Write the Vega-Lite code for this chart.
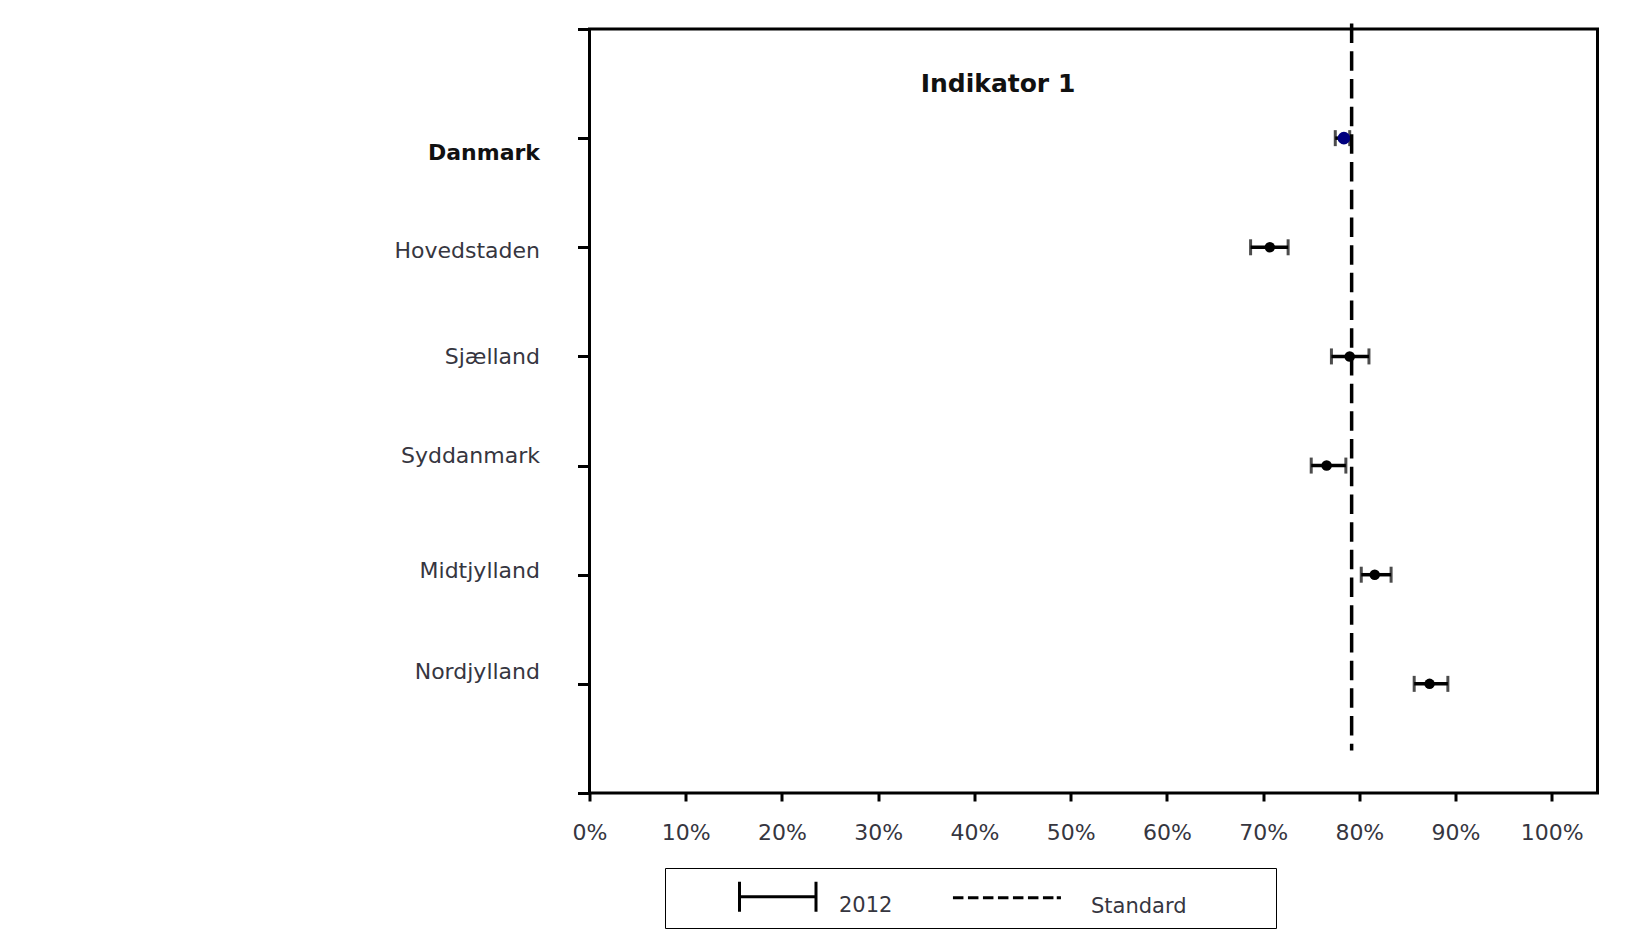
{
  "$schema": "https://vega.github.io/schema/vega-lite/v6.json",
  "width": 1008,
  "height": 764,
  "autosize": "none",
  "padding": {"left": 589.5, "top": 29, "right": 34.5, "bottom": 141},
  "background": "white",
  "config": {
    "view": {"stroke": "black", "strokeWidth": 3},
    "font": "DejaVu Sans"
  },
  "title": {
    "text": "Indikator 1",
    "font": "DejaVu Sans",
    "fontSize": 25,
    "fontWeight": "bold",
    "color": "#111111",
    "frame": "group",
    "anchor": "middle",
    "baseline": "alphabetic",
    "offset": 0,
    "dx": -95.5,
    "dy": 95
  },
  "datasets": {
    "regions": [
      {"region": "Danmark", "andel": 0.784, "nedre": 0.775, "oevre": 0.790, "serie": "2012"},
      {"region": "Hovedstaden", "andel": 0.707, "nedre": 0.687, "oevre": 0.726, "serie": "2012"},
      {"region": "Sjælland", "andel": 0.790, "nedre": 0.771, "oevre": 0.810, "serie": "2012"},
      {"region": "Syddanmark", "andel": 0.766, "nedre": 0.750, "oevre": 0.786, "serie": "2012"},
      {"region": "Midtjylland", "andel": 0.816, "nedre": 0.802, "oevre": 0.833, "serie": "2012"},
      {"region": "Nordjylland", "andel": 0.873, "nedre": 0.857, "oevre": 0.892, "serie": "2012"}
    ],
    "standard": [
      {"standard": 0.792, "serie": "Standard"}
    ]
  },
  "layer": [
    {
      "data": {"name": "regions"},
      "encoding": {
        "y": {
          "field": "region",
          "type": "nominal",
          "sort": null,
          "scale": {"type": "point", "padding": 1},
          "axis": {
            "title": null,
            "domain": false,
            "grid": false,
            "ticks": true,
            "tickSize": 12,
            "tickWidth": 3,
            "tickColor": "black",
            "labelFont": "DejaVu Sans",
            "labelFontSize": 22,
            "labelPadding": 38,
            "labelColor": {"condition": {"test": "datum.value === 'Danmark'", "value": "#111111"}, "value": "#36363f"},
            "labelFontWeight": {"condition": {"test": "datum.value === 'Danmark'", "value": "bold"}, "value": "normal"},
            "labelOffset": {
              "condition": [
                {"test": "datum.value === 'Danmark'", "value": 14},
                {"test": "datum.value === 'Hovedstaden'", "value": 3},
                {"test": "datum.value === 'Syddanmark'", "value": -10},
                {"test": "datum.value === 'Midtjylland'", "value": -4},
                {"test": "datum.value === 'Nordjylland'", "value": -12}
              ],
              "value": 0
            }
          }
        }
      },
      "layer": [
        {
          "mark": {"type": "rule", "color": "black", "strokeWidth": 3.5},
          "encoding": {
            "x": {
              "field": "nedre",
              "type": "quantitative",
              "scale": {"domain": [0, 1.0475], "nice": false, "zero": false},
              "axis": {
                "title": null,
                "format": ".0%",
                "values": [0, 0.1, 0.2, 0.3, 0.4, 0.5, 0.6, 0.7, 0.8, 0.9, 1.0],
                "domain": false,
                "grid": false,
                "tickSize": 8,
                "tickWidth": 3,
                "tickColor": "black",
                "labelFont": "DejaVu Sans",
                "labelFontSize": 22,
                "labelColor": "#36363f",
                "labelPadding": 21,
                "labelFlush": false
              }
            },
            "x2": {"field": "oevre"}
          }
        },
        {
          "mark": {"type": "tick", "color": "black", "size": 16, "thickness": 3},
          "encoding": {"x": {"field": "nedre", "type": "quantitative"}}
        },
        {
          "mark": {"type": "tick", "color": "black", "size": 16, "thickness": 3},
          "encoding": {"x": {"field": "oevre", "type": "quantitative"}}
        },
        {
          "mark": {"type": "point", "filled": true, "opacity": 1, "shape": "circle"},
          "encoding": {
            "x": {"field": "andel", "type": "quantitative"},
            "color": {"condition": {"test": "datum.region === 'Danmark'", "value": "#00007f"}, "value": "black"},
            "size": {"condition": {"test": "datum.region === 'Danmark'", "value": 160}, "value": 110}
          }
        },
        {
          "mark": {"type": "point", "filled": false, "opacity": 0, "color": "black"},
          "encoding": {
            "x": {"field": "andel", "type": "quantitative"},
            "shape": {
              "field": "serie",
              "type": "nominal",
              "scale": {
                "domain": ["2012", "Standard"],
                "range": [
                  "M-1,0.13M3.2,-0.87V1.13M3.2,0.13H8.3M8.3,-0.87V1.13",
                  "M-1,0.13M0.63,0.13H1.33M1.63,0.13H2.33M2.63,0.13H3.33M3.63,0.13H4.33M4.63,0.13H5.33M5.63,0.13H6.33M6.63,0.13H7.33M7.55,0.13H7.83M21.1,0.13"
                ]
              },
              "legend": {
                "title": null,
                "orient": "none",
                "legendX": 75.5,
                "legendY": 839,
                "direction": "horizontal",
                "symbolSize": 900,
                "symbolStrokeWidth": 3,
                "symbolStrokeColor": "black",
                "symbolFillColor": "transparent",
                "symbolOpacity": 1,
                "labelFont": "DejaVu Sans",
                "labelFontSize": 21,
                "labelColor": "#36363f",
                "labelBaseline": "top",
                "labelOffset": 131,
                "columnPadding": 29,
                "padding": 10,
                "strokeColor": "black",
                "encode": {
                  "legend": {"update": {"strokeWidth": {"value": 3.5}}}
                }
              }
            }
          }
        }
      ]
    },
    {
      "data": {"name": "standard"},
      "mark": {"type": "rule", "color": "black", "strokeWidth": 3.5, "strokeDash": [19.5, 8.2]},
      "encoding": {
        "x": {"field": "standard", "type": "quantitative"},
        "y": {
          "datum": 7.05,
          "type": "quantitative",
          "scale": {"domain": [0, 7], "nice": false, "zero": false},
          "axis": {
            "orient": "left",
            "title": null,
            "values": [0, 7],
            "labels": false,
            "domain": false,
            "grid": false,
            "tickSize": 12,
            "tickWidth": 3,
            "tickColor": "black"
          }
        },
        "y2": {"datum": 0.39}
      }
    }
  ],
  "resolve": {"scale": {"y": "independent"}, "axis": {"y": "independent"}}
}
